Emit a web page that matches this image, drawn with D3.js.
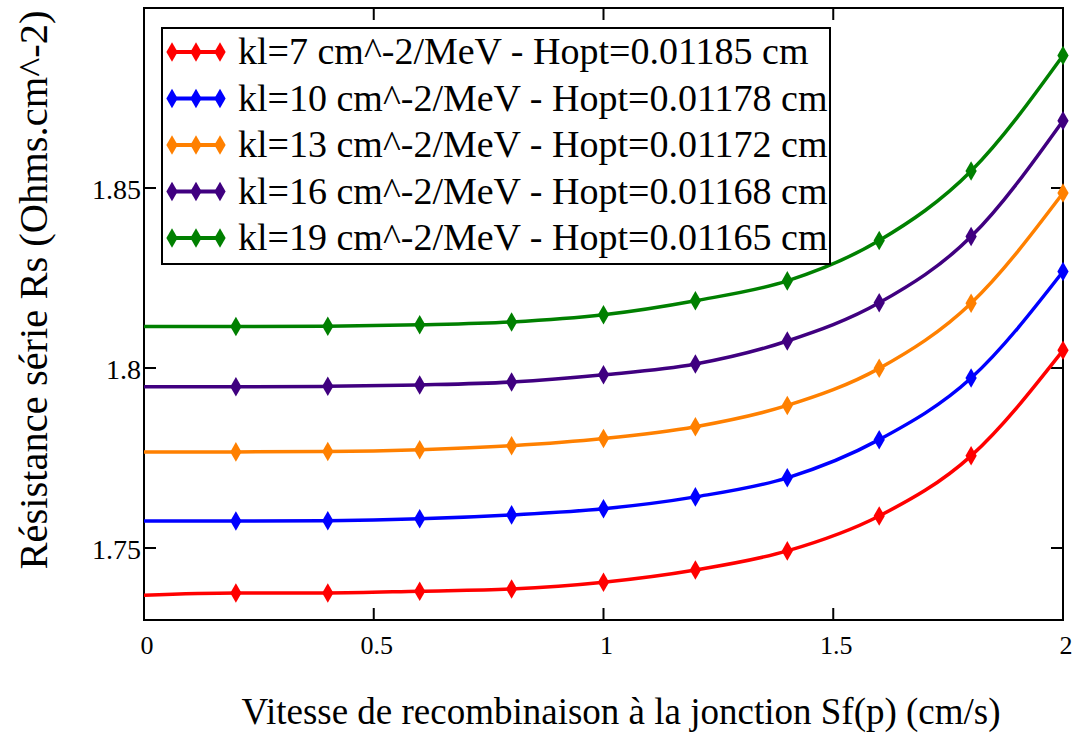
<!DOCTYPE html>
<html lang="fr">
<head>
    <meta charset="UTF-8">
    <title>Résistance série Rs</title>
    <script src="https://d3js.org/d3.v7.min.js"></script>
    <style>
        body { margin: 0; background: #fff; }
    </style>
</head>
<body>
<script>
    // Sf(p) values where the curve is sampled (markers from 0.2)
    const sf = [0, 0.2, 0.4, 0.6, 0.8, 1.0, 1.2, 1.4, 1.6, 1.8, 2.0];

    const rsKl7  = [1.7369, 1.7375, 1.7375, 1.7380, 1.7386, 1.7405, 1.7439, 1.7492, 1.7589, 1.7756, 1.8049];
    const rsKl10 = [1.7575, 1.7575, 1.7576, 1.7581, 1.7592, 1.7609, 1.7642, 1.7695, 1.7801, 1.7972, 1.8268];
    const rsKl13 = [1.7767, 1.7767, 1.7768, 1.7773, 1.7784, 1.7804, 1.7837, 1.7896, 1.7999, 1.8180, 1.8486];
    const rsKl16 = [1.7948, 1.7948, 1.7949, 1.7953, 1.7961, 1.7981, 1.8011, 1.8075, 1.8181, 1.8365, 1.8687];
    const rsKl19 = [1.8115, 1.8115, 1.8116, 1.8120, 1.8128, 1.8148, 1.8187, 1.8242, 1.8354, 1.8547, 1.8868];

    const seriesNames = [
        "kl=7 cm^-2/MeV - Hopt=0.01185 cm",
        "kl=10 cm^-2/MeV - Hopt=0.01178 cm",
        "kl=13 cm^-2/MeV - Hopt=0.01172 cm",
        "kl=16 cm^-2/MeV - Hopt=0.01168 cm",
        "kl=19 cm^-2/MeV - Hopt=0.01165 cm"
    ];
    const seriesColors = ["#ff0000", "#0000ff", "#ff8000", "#400080", "#008000"];
    const seriesValues = [rsKl7, rsKl10, rsKl13, rsKl16, rsKl19];

    const xTicks = [0, 0.5, 1, 1.5, 2];
    const xTickLabels = ["0", "0.5", "1", "1.5", "2"];
    const yTicks = [1.75, 1.8, 1.85];
    const yTickLabels = ["1.75", "1.8", "1.85"];

    const width = 1073, height = 736;
    const margin = {left: 144, right: 10, top: 8, bottom: 116};
    const serif = "'Liberation Serif', 'Times New Roman', Times, serif";

    const svg = d3.select("body").append("svg")
        .attr("width", width)
        .attr("height", height)
        .attr("font-family", serif);

    const x = d3.scaleLinear().domain([0, 2]).range([margin.left, width - margin.right]);
    const y = d3.scaleLinear().domain([1.73, 1.9]).range([height - margin.bottom, margin.top]);

    const x0 = x.range()[0], x1 = x.range()[1];
    const y0 = y.range()[0], y1 = y.range()[1];

    // cadre
    svg.append("rect")
        .attr("x", x0).attr("y", y1)
        .attr("width", x1 - x0).attr("height", y0 - y1)
        .attr("fill", "none").attr("stroke", "#000").attr("stroke-width", 2);

    // graduations vers l'intérieur
    const tk = 12;
    xTicks.slice(1, -1).forEach(t => {
        svg.append("line").attr("x1", x(t)).attr("x2", x(t)).attr("y1", y0).attr("y2", y0 - tk)
            .attr("stroke", "#000").attr("stroke-width", 2);
        svg.append("line").attr("x1", x(t)).attr("x2", x(t)).attr("y1", y1).attr("y2", y1 + tk)
            .attr("stroke", "#000").attr("stroke-width", 2);
    });
    yTicks.forEach(t => {
        svg.append("line").attr("x1", x0).attr("x2", x0 + tk).attr("y1", y(t)).attr("y2", y(t))
            .attr("stroke", "#000").attr("stroke-width", 2);
        svg.append("line").attr("x1", x1).attr("x2", x1 - tk).attr("y1", y(t)).attr("y2", y(t))
            .attr("stroke", "#000").attr("stroke-width", 2);
    });

    xTicks.forEach((t, i) => {
        svg.append("text")
            .attr("x", x(t) + 3).attr("y", 654)
            .attr("text-anchor", "middle")
            .style("font-size", "26px")
            .text(xTickLabels[i]);
    });
    yTicks.forEach((t, i) => {
        svg.append("text")
            .attr("x", x0 - 3).attr("y", y(t) + 11)
            .attr("text-anchor", "end")
            .style("font-size", "28px")
            .text(yTickLabels[i]);
    });

    // titres des axes
    svg.append("text")
        .attr("x", 621).attr("y", 724)
        .attr("text-anchor", "middle")
        .style("font-size", "37px")
        .text("Vitesse de recombinaison à la jonction Sf(p) (cm/s)");

    svg.append("text")
        .attr("transform", "translate(47,290) rotate(-90)")
        .attr("text-anchor", "middle")
        .style("font-size", "40.5px")
        .text("Résistance série Rs (Ohms.cm^-2)");

    const line = d3.line()
        .x(d => x(d[0]))
        .y(d => y(d[1]))
        .curve(d3.curveMonotoneX);

    const diamond = d3.symbol().type(d3.symbolDiamond).size(110);

    seriesValues.forEach((vals, i) => {
        const pts = sf.map((s, j) => [s, vals[j]]);
        svg.append("path")
            .attr("d", line(pts))
            .attr("fill", "none")
            .attr("stroke", seriesColors[i])
            .attr("stroke-width", 3.5);
        svg.selectAll(null)
            .data(pts.slice(1))
            .enter().append("path")
            .attr("d", diamond)
            .attr("transform", d => `translate(${x(d[0])},${y(d[1])})`)
            .attr("fill", seriesColors[i]);
    });

    // légende
    const lg = svg.append("g");
    lg.append("rect")
        .attr("x", 162).attr("y", 28)
        .attr("width", 668).attr("height", 236)
        .attr("fill", "#fff").attr("stroke", "#000").attr("stroke-width", 2);

    seriesNames.forEach((name, i) => {
        const ly = 52 + i * 46.5;
        lg.append("line")
            .attr("x1", 172).attr("x2", 220).attr("y1", ly).attr("y2", ly)
            .attr("stroke", seriesColors[i]).attr("stroke-width", 4);
        [172, 196, 220].forEach(px => {
            lg.append("path")
                .attr("d", diamond)
                .attr("transform", `translate(${px},${ly})`)
                .attr("fill", seriesColors[i]);
        });
        lg.append("text")
            .attr("x", 238).attr("y", ly + 12)
            .style("font-size", "38px")
            .text(name);
    });
</script>
</body>
</html>
